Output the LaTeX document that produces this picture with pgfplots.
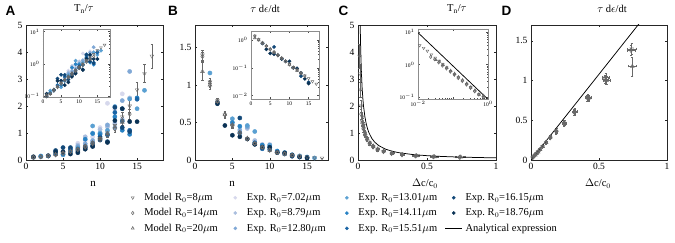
\documentclass[border=0pt]{standalone}
\usepackage{pgfplots}
\pgfplotsset{compat=1.18}
\usepackage{pgfplotstable}
\usepackage{fontspec}
\setmainfont{Liberation Serif}
\setsansfont{Liberation Sans}

\definecolor{mgray}{RGB}{105,105,105}
\definecolor{cA}{RGB}{214,216,236}
\definecolor{cB}{RGB}{170,190,222}
\definecolor{cC}{RGB}{128,168,214}
\definecolor{cD}{RGB}{90,160,210}
\definecolor{cE}{RGB}{40,130,196}
\definecolor{cF}{RGB}{25,100,165}
\definecolor{cG}{RGB}{18,72,120}
\definecolor{cH}{RGB}{10,50,85}

% model R0=8
\pgfplotstableread{
n dc dce T Te E Ee
1 0.740 0.030 0.10 0.010 1.40 0.070
2 0.550 0.025 0.12 0.010 1.04 0.050
3 0.420 0.020 0.15 0.015 0.79 0.040
4 0.320 0.015 0.20 0.020 0.60 0.040
5 0.245 0.012 0.25 0.025 0.46 0.035
6 0.185 0.009 0.32 0.030 0.36 0.030
7 0.142 0.007 0.40 0.040 0.28 0.020
8 0.110 0.005 0.50 0.050 0.22 0.015
9 0.085 0.004 0.63 0.060 0.17 0.012
10 0.066 0.003 0.80 0.080 0.135 0.010
11 0.051 0.0025 1.00 0.100 0.105 0.008
12 0.040 0.002 1.28 0.130 0.083 0.006
13 0.031 0.0015 1.60 0.170 0.065 0.005
14 0.024 0.0012 2.00 0.220 0.052 0.004
15 0.0185 0.001 2.60 0.280 0.041 0.003
16 0.0145 0.0008 3.20 0.330 0.032 0.003
17 0.0112 0.0006 3.85 0.450 0.026 0.002
}\Ma
% model R0=14
\pgfplotstableread{
n dc dce T Te E Ee
1 0.735 0.030 0.10 0.010 1.38 0.060
2 0.545 0.025 0.12 0.010 1.02 0.050
3 0.415 0.020 0.15 0.015 0.78 0.040
4 0.318 0.015 0.19 0.020 0.60 0.040
5 0.243 0.012 0.24 0.025 0.46 0.030
6 0.184 0.009 0.31 0.030 0.36 0.030
7 0.141 0.007 0.38 0.040 0.28 0.020
8 0.109 0.005 0.48 0.050 0.22 0.015
9 0.084 0.004 0.60 0.060 0.17 0.012
10 0.065 0.003 0.75 0.070 0.13 0.010
11 0.050 0.0025 0.92 0.090 0.10 0.008
12 0.039 0.002 1.15 0.120 0.082 0.006
13 0.030 0.0015 1.45 0.150 0.064 0.005
14 0.023 0.0012 1.70 0.180 0.050 0.004
}\Mb
% model R0=20
\pgfplotstableread{
n dc dce T Te E Ee
1 0.745 0.030 0.11 0.010 1.18 0.120
2 0.555 0.025 0.12 0.010 1.00 0.050
3 0.425 0.020 0.16 0.015 0.78 0.040
4 0.322 0.015 0.20 0.020 0.61 0.040
5 0.247 0.012 0.26 0.025 0.47 0.030
6 0.187 0.009 0.33 0.030 0.37 0.030
7 0.143 0.007 0.41 0.040 0.29 0.020
8 0.111 0.005 0.52 0.050 0.22 0.015
9 0.086 0.004 0.64 0.060 0.17 0.012
10 0.067 0.003 0.80 0.080 0.13 0.010
11 0.052 0.0025 0.98 0.100 0.10 0.008
12 0.041 0.002 1.22 0.120 0.08 0.006
13 0.032 0.0015 1.40 0.140 0.063 0.005
}\Mc

% experiments, panel A (n, T)
\pgfplotstableread{
n T
4 0.20
6 0.35
7 0.62
8 0.72
9 0.86
10 1.20
11 2.10
12 1.88
13 2.45
}\TA
\pgfplotstableread{
n T
2 0.12
5 0.30
7 0.55
8 0.86
9 1.00
10 1.13
11 1.23
12 1.36
13 1.50
14 2.30
}\TB
\pgfplotstableread{
n T
3 0.15
6 0.33
7 0.50
8 0.60
9 0.72
10 1.00
11 1.30
12 1.20
13 2.20
14 3.28
}\TC
\pgfplotstableread{
n T
2 0.15
5 0.19
7 0.45
9 1.26
10 0.99
11 1.10
12 1.98
13 1.90
14 2.26
15 1.90
16 2.58
}\TD
\pgfplotstableread{
n T
2 0.13
5 0.22
6 0.30
8 0.77
9 0.98
10 0.95
11 0.95
12 1.60
13 1.10
14 0.95
15 2.30
}\TE
\pgfplotstableread{
n T
3 0.15
4 0.22
6 0.40
7 0.40
8 0.50
9 0.62
10 0.86
11 0.93
12 1.76
13 1.44
14 1.10
15 2.25
}\TF
\pgfplotstableread{
n T
1 0.10
3 0.16
4 0.35
5 0.46
6 0.46
7 0.33
8 0.45
9 0.53
10 0.74
11 0.68
12 1.95
13 1.20
14 1.05
}\TG
\pgfplotstableread{
n T
1 0.12
4 0.30
5 0.30
6 0.22
7 0.27
8 0.40
9 0.50
10 0.80
11 0.65
12 1.46
13 1.90
14 1.42
15 1.42
}\TH

% experiments, panel B (n, E)
\pgfplotstableread{
n E
5 0.50
7 0.44
9 0.21
10 0.21
12 0.09
}\EA
\pgfplotstableread{
n E
7 0.42
8 0.26
9 0.19
10 0.19
11 0.11
13 0.06
}\EB
\pgfplotstableread{
n E
6 0.40
7 0.44
9 0.17
11 0.10
13 0.06
}\EC
\pgfplotstableread{
n E
2 1.16
5 0.55
7 0.46
8 0.38
10 0.20
12 0.10
14 0.055
16 0.027
}\ED
\pgfplotstableread{
n E
5 0.50
6 0.45
9 0.20
10 0.17
11 0.12
13 0.07
15 0.04
}\EE
\pgfplotstableread{
n E
6 0.36
8 0.23
9 0.15
10 0.14
12 0.08
14 0.04
}\EF
\pgfplotstableread{
n E
3 0.77
6 0.56
8 0.21
11 0.10
13 0.05
15 0.03
}\EG
\pgfplotstableread{
n E
3 0.75
4 0.46
5 0.33
6 0.31
7 0.28
8 0.21
9 0.17
10 0.17
11 0.10
12 0.095
13 0.065
14 0.04
15 0.027
}\EH

\pgfplotsset{
  base/.style={scale only axis, axis background/.style={fill=white},
    axis line style={black!85,line width=0.45pt},
    every tick/.style={black!85,line width=0.4pt},
    major tick length=2.2pt, tick align=inside,
    /pgf/number format/assume math mode=true,
    tick label style={font=\fontsize{9.5}{10}\selectfont}},
  inset/.style={scale only axis, axis background/.style={fill=white},
    axis line style={black!45,line width=0.9pt},
    every tick/.style={black!70,line width=0.3pt},
    major tick length=1.6pt, minor tick length=0.9pt, tick align=inside,
    /pgf/number format/assume math mode=true,
    tick label style={font=\fontsize{5.5}{6}\selectfont},
    xticklabel style={yshift=1pt}},
  ex/.style={only marks, mark=*, mark size=2.1pt, color=#1, mark options={draw=none, fill=#1}},
  exs/.style={ex=#1, mark size=1.7pt},
  mk/.style={only marks, color=mgray, mark size=2.1pt, mark options={line width=0.55pt, fill=none}},
  m8/.style={mk, mark=triangle, mark options={rotate=180}},
  m14/.style={mk, mark=diamond},
  m20/.style={mk, mark=triangle},
  ey/.style={error bars/y dir=both, error bars/y explicit,
    error bars/error bar style={mgray, line width=0.4pt},
    error bars/error mark options={rotate=90, mgray, mark size=1.3pt, line width=0.4pt}},
  exy/.style={error bars/x dir=both, error bars/x explicit,
    error bars/y dir=both, error bars/y explicit,
    error bars/error bar style={mgray, line width=0.4pt},
    error bars/error mark options={rotate=90, mgray, mark size=1.1pt, line width=0.4pt}},
}

\begin{document}
\begin{tikzpicture}
\useasboundingbox (0pt,0pt) rectangle (675pt,243pt);

% ---------------- Panel A ----------------
\begin{axis}[base, at={(26pt,83pt)}, anchor=south west, width=137pt, height=135pt,
  xmin=0, xmax=18.5, ymin=0, ymax=5, xtick={0,5,10,15}, ytick={0,1,2,3,4,5},
  legend image code/.code={\path[draw=none,fill=none] (0cm,-1pt) rectangle (0.6cm,1pt); \draw[mark repeat=2,mark phase=2,#1] plot coordinates {(0cm,0cm) (0.3cm,0cm) (0.6cm,0cm)};},
  legend columns=4,
  legend style={at={(0.7153,-0.2420)}, anchor=north west, draw=none, fill=none, inner sep=0pt,
    font=\fontsize{10.5}{12}\selectfont,
    nodes={inner sep=0.5pt, anchor=west},
    row sep=5.5pt,
    /tikz/every odd column/.style={column sep=2.5pt},
    /tikz/column 2/.style={text width=82pt},
    /tikz/column 4/.style={text width=91pt},
    /tikz/column 6/.style={text width=86pt}},
]
\addplot[ex=cA, forget plot] table[x=n,y=T]{\TA};
\addplot[ex=cB, forget plot] table[x=n,y=T]{\TB};
\addplot[ex=cC, forget plot] table[x=n,y=T]{\TC};
\addplot[ex=cD, forget plot] table[x=n,y=T]{\TD};
\addplot[ex=cE, forget plot] table[x=n,y=T]{\TE};
\addplot[ex=cF, forget plot] table[x=n,y=T]{\TF};
\addplot[ex=cG, forget plot] table[x=n,y=T]{\TG};
\addplot[ex=cH, forget plot] table[x=n,y=T]{\TH};
\addplot[forget plot, m20, ey] table[x=n,y=T,y error=Te]{\Mc};
\addplot[forget plot, m14, ey] table[x=n,y=T,y error=Te]{\Mb};
\addplot[forget plot, m8, ey] table[x=n,y=T,y error=Te]{\Ma};
% legend, row by row
\addlegendimage{m8, mark size=1.7pt}
\addlegendentry{\mbox{Model R$_0$=8$\mu$m}}
\addlegendimage{ex=cA, mark size=1.6pt}
\addlegendentry{\mbox{Exp.\ R$_0$=7.02$\mu$m}}
\addlegendimage{ex=cD, mark size=1.6pt}
\addlegendentry{\mbox{Exp.\ R$_0$=13.01$\mu$m}}
\addlegendimage{ex=cG, mark size=1.6pt}
\addlegendentry{\mbox{Exp.\ R$_0$=16.15$\mu$m}}
\addlegendimage{m14, mark size=1.7pt}
\addlegendentry{\mbox{Model R$_0$=14$\mu$m}}
\addlegendimage{ex=cB, mark size=1.6pt}
\addlegendentry{\mbox{Exp.\ R$_0$=8.79$\mu$m}}
\addlegendimage{ex=cE, mark size=1.6pt}
\addlegendentry{\mbox{Exp.\ R$_0$=14.11$\mu$m}}
\addlegendimage{ex=cH, mark size=1.6pt}
\addlegendentry{\mbox{Exp.\ R$_0$=18.76$\mu$m}}
\addlegendimage{m20, mark size=1.7pt}
\addlegendentry{\mbox{Model R$_0$=20$\mu$m}}
\addlegendimage{ex=cC, mark size=1.6pt}
\addlegendentry{\mbox{Exp.\ R$_0$=12.80$\mu$m}}
\addlegendimage{ex=cF, mark size=1.6pt}
\addlegendentry{\mbox{Exp.\ R$_0$=15.51$\mu$m}}
\addlegendimage{black, line width=0.6pt}
\addlegendentry{\mbox{Analytical expression}}
\end{axis}

% inset A
\begin{axis}[inset, at={(43pt,146pt)}, anchor=south west, width=67pt, height=68pt,
  xmin=0, xmax=18.5, ymode=log, ymin=0.095, ymax=12, xtick={0,5,10,15},
  ytick={0.1,1,10}, yticklabels={10$^{-1}$,10$^{0}$,10$^{1}$}]
\addplot[exs=cA] table[x=n,y=T]{\TA};
\addplot[exs=cB] table[x=n,y=T]{\TB};
\addplot[exs=cC] table[x=n,y=T]{\TC};
\addplot[exs=cD] table[x=n,y=T]{\TD};
\addplot[exs=cE] table[x=n,y=T]{\TE};
\addplot[exs=cF] table[x=n,y=T]{\TF};
\addplot[exs=cG] table[x=n,y=T]{\TG};
\addplot[exs=cH] table[x=n,y=T]{\TH};
\addplot[m20, mark size=1.6pt] table[x=n,y=T]{\Mc};
\addplot[m14, mark size=1.6pt] table[x=n,y=T]{\Mb};
\addplot[m8, mark size=1.6pt] table[x=n,y=T]{\Ma};
\end{axis}

% ---------------- Panel B ----------------
\begin{axis}[base, at={(195pt,83pt)}, anchor=south west, width=133pt, height=135pt,
  xmin=0, xmax=17.8, ymin=0, ymax=1.8, xtick={0,5,10,15}, ytick={0,0.5,1,1.5}]
\addplot[ex=cA] table[x=n,y=E]{\EA};
\addplot[ex=cB] table[x=n,y=E]{\EB};
\addplot[ex=cC] table[x=n,y=E]{\EC};
\addplot[ex=cD] table[x=n,y=E]{\ED};
\addplot[ex=cE] table[x=n,y=E]{\EE};
\addplot[ex=cF] table[x=n,y=E]{\EF};
\addplot[ex=cG] table[x=n,y=E]{\EG};
\addplot[ex=cH] table[x=n,y=E]{\EH};
\addplot[m20, ey] table[x=n,y=E,y error=Ee]{\Mc};
\addplot[m14, ey] table[x=n,y=E,y error=Ee]{\Mb};
\addplot[m8, ey] table[x=n,y=E,y error=Ee]{\Ma};
\end{axis}

% inset B
\begin{axis}[inset, at={(251pt,144pt)}, anchor=south west, width=68pt, height=68pt,
  xmin=0, xmax=17.7, ymode=log, ymin=0.0075, ymax=2.1, xtick={0,5,10,15},
  ytick={0.01,0.1,1}, yticklabels={10$^{-2}$,10$^{-1}$,10$^{0}$}]
\addplot[exs=cG] table[x=n,y=E]{\EG};
\addplot[exs=cH] table[x=n,y=E]{\EH};
\addplot[m20, mark size=1.6pt] table[x=n,y=E]{\Mc};
\addplot[m14, mark size=1.6pt] table[x=n,y=E]{\Mb};
\addplot[m8, mark size=1.6pt] table[x=n,y=E]{\Ma};
\end{axis}

% ---------------- Panel C ----------------
\begin{axis}[base, at={(358pt,83pt)}, anchor=south west, width=138pt, height=135pt,
  xmin=0, xmax=1, ymin=0, ymax=5, xtick={0,0.5,1}, ytick={0,1,2,3,4,5}]
\addplot[m20, exy] table[x=dc,y=T,x error=dce,y error=Te]{\Mc};
\addplot[m14, exy] table[x=dc,y=T,x error=dce,y error=Te]{\Mb};
\addplot[m8, exy] table[x=dc,y=T,x error=dce,y error=Te]{\Ma};
\addplot[black, line width=0.75pt] coordinates {
(0.015,5.333) (0.017,4.706) (0.02,4.0) (0.025,3.2) (0.03,2.667) (0.035,2.286)
(0.04,2.0) (0.05,1.6) (0.06,1.333) (0.07,1.143) (0.08,1.0) (0.1,0.8)
(0.12,0.667) (0.15,0.533) (0.2,0.4) (0.25,0.32) (0.3,0.267) (0.4,0.2)
(0.5,0.16) (0.6,0.133) (0.7,0.114) (0.8,0.1) (0.9,0.089) (1.0,0.08)};
\end{axis}

% inset C
\begin{axis}[inset, at={(418pt,144pt)}, anchor=south west, width=70pt, height=70pt,
  xmode=log, ymode=log, xmin=0.01, xmax=1, ymin=0.087, ymax=12.3,
  xtick={0.01,0.1,1}, xticklabels={10$^{-2}$,,10$^{0}$},
  ytick={0.1,1,10}, yticklabels={10$^{-1}$,10$^{0}$,10$^{1}$}]
\addplot[m20, mark size=1.6pt] table[x=dc,y=T]{\Mc};
\addplot[m14, mark size=1.6pt] table[x=dc,y=T]{\Mb};
\addplot[m8, mark size=1.6pt] table[x=dc,y=T]{\Ma};
\addplot[black, line width=0.75pt] coordinates {(0.01,9.5) (1,0.085)};
\end{axis}

% ---------------- Panel D ----------------
\begin{axis}[base, at={(531pt,83pt)}, anchor=south west, width=136pt, height=135pt,
  xmin=0, xmax=1, ymin=0, ymax=1.7, xtick={0,0.5,1}, ytick={0,0.5,1,1.5}]
\addplot[m20, exy] table[x=dc,y=E,x error=dce,y error=Ee]{\Mc};
\addplot[m14, exy] table[x=dc,y=E,x error=dce,y error=Ee]{\Mb};
\addplot[m8, exy] table[x=dc,y=E,x error=dce,y error=Ee]{\Ma};
\addplot[black, line width=0.75pt] coordinates {(0,0) (0.85,1.836)};
\end{axis}

% titles, labels, panel letters
\begin{scope}[every node/.style={inner sep=0pt}]
\node[font=\fontsize{10.5}{11}\selectfont] at (84pt,234pt) {T$_{\mathrm{n}}$/$\tau$};
\node[font=\fontsize{10.5}{11}\selectfont] at (265pt,234pt) {$\tau$ d$\epsilon$/dt};
\node[font=\fontsize{10.5}{11}\selectfont] at (457pt,234pt) {T$_{\mathrm{n}}$/$\tau$};
\node[font=\fontsize{10.5}{11}\selectfont] at (612pt,234pt) {$\tau$ d$\epsilon$/dt};
\node[font=\fontsize{11}{12}\selectfont] at (93pt,59pt) {n};
\node[font=\fontsize{11}{12}\selectfont] at (232pt,59pt) {n};
\node[font=\fontsize{10.5}{12}\selectfont] at (425pt,59pt) {$\Delta$c/c$_0$};
\node[font=\fontsize{10.5}{12}\selectfont] at (598pt,59pt) {$\Delta$c/c$_0$};
\node[font=\sffamily\bfseries\fontsize{13.5}{14}\selectfont] at (10.5pt,232pt) {A};
\node[font=\sffamily\bfseries\fontsize{13.5}{14}\selectfont] at (173pt,232pt) {B};
\node[font=\sffamily\bfseries\fontsize{13.5}{14}\selectfont] at (343.5pt,232pt) {C};
\node[font=\sffamily\bfseries\fontsize{13.5}{14}\selectfont] at (506.5pt,232pt) {D};
\end{scope}
\end{tikzpicture}
\end{document}
